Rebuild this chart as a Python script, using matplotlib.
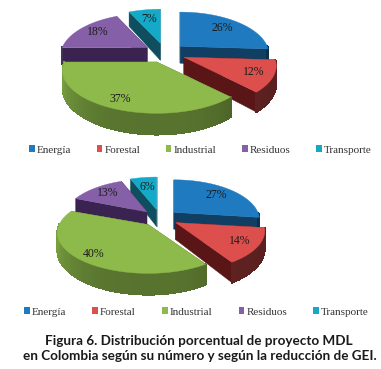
import numpy as np
import matplotlib
matplotlib.use('Agg')
import matplotlib.pyplot as plt
from matplotlib.patches import Polygon, Patch

categories = ['Energía', 'Forestal', 'Industrial', 'Residuos', 'Transporte']
values_top = [26, 12, 37, 18, 7]
values_bottom = [27, 14, 40, 13, 6]
colors = ['#1f7ac0', '#dc4f4c', '#8dba4b', '#8560a8', '#14a9c6']
dark_colors = ['#113f63', '#5a1616', '#4f6d2a', '#3a2350', '#0e4e5e']
caption = ['Figura 6. Distribución porcentual de proyecto MDL',
           'en Colombia según su número y según la reducción de GEI.']

p = 0.2  # fake perspective, back of the pie is smaller than the front
label_r = [0.73, 0.8, 0.84, 0.75, 0.68]
widen = [1, 1.04, 1.06, 0.98, 1]  # front slices look a bit wider in the original


def project(apex, u, v, h, rx, ry, depth):
    s = 1 / (1 + p * v)
    return apex[0] + rx * u * s, apex[1] - ry * v * s + depth * h * s


def shade(col, f):
    return tuple(np.array(matplotlib.colors.to_rgb(col)) * f)


def draw_pie(ax, values, center, radius, ry, depth, explode):
    fr = np.array(values) / sum(values)
    ends = np.cumsum(fr) * 2 * np.pi
    starts = ends - fr * 2 * np.pi
    # back slices first so the front ones cover them
    for i in [4, 3, 0, 1, 2]:
        mid = (starts[i] + ends[i]) / 2
        apex = (center[0] + radius * explode * np.sin(mid), center[1] - ry * explode * np.cos(mid))
        rx = radius * widen[i]
        th = np.linspace(starts[i], ends[i], 80)
        u, v = np.sin(th), np.cos(th)

        # the two cut faces
        for a in (starts[i], ends[i]):
            pts = [project(apex, 0, 0, 0, rx, ry, depth),
                   project(apex, np.sin(a), np.cos(a), 0, rx, ry, depth),
                   project(apex, np.sin(a), np.cos(a), 1, rx, ry, depth),
                   project(apex, 0, 0, 1, rx, ry, depth)]
            ax.add_patch(Polygon(pts, closed=True, fc=dark_colors[i], ec=dark_colors[i], lw=0.3))

        # outer wall, darker toward the right
        for k in range(len(th) - 1):
            if v[k] > 0 and v[k + 1] > 0:
                continue
            pts = [project(apex, u[k], v[k], 0, rx, ry, depth),
                   project(apex, u[k + 1], v[k + 1], 0, rx, ry, depth),
                   project(apex, u[k + 1], v[k + 1], 1, rx, ry, depth),
                   project(apex, u[k], v[k], 1, rx, ry, depth)]
            if i == 2:
                c = shade(colors[i], 0.62 - 0.24 * u[k] ** 3)
            else:
                c = shade(colors[i], 0.46 - 0.06 * u[k])
            ax.add_patch(Polygon(pts, closed=True, fc=c, ec=c, lw=0.7, antialiased=False))

        top = [project(apex, 0, 0, 0, rx, ry, depth)]
        top += [project(apex, a, b, 0, rx, ry, depth) for a, b in zip(u, v)]
        ax.add_patch(Polygon(top, closed=True, fc=colors[i], ec=colors[i], lw=0.3))

        lx, ly = project(apex, label_r[i] * np.sin(mid), label_r[i] * np.cos(mid), 0, rx, ry, depth)
        ax.text(lx, ly, '%d%%' % values[i], ha='center', va='center', fontsize=8.5,
                family='Liberation Serif', color='#1c1c1c')


fig = plt.figure(figsize=(3.81, 3.69), dpi=100)
ax = fig.add_axes([0, 0, 1, 1])
ax.set_xlim(0, 381)
ax.set_ylim(369, 0)
ax.axis('off')

draw_pie(ax, values_top, (165, 53), 87, 41, 17, 0.24)
draw_pie(ax, values_bottom, (160, 218), 84, 39, 17, 0.22)

handles = [Patch(fc=c, ec='none') for c in colors]
first = ax.legend(handles, categories, ncol=5, frameon=False, loc='center left',
                  bbox_to_anchor=(29, 150), bbox_transform=ax.transData, borderpad=0, borderaxespad=0,
                  handlelength=0.5, handleheight=0.6, handletextpad=0.2, columnspacing=2.3,
                  prop={'family': 'Liberation Serif', 'size': 8}, labelcolor='#333333')
ax.add_artist(first)
ax.legend(handles, categories, ncol=5, frameon=False, loc='center left',
          bbox_to_anchor=(24, 312), bbox_transform=ax.transData, borderpad=0, borderaxespad=0,
          handlelength=0.5, handleheight=0.6, handletextpad=0.2, columnspacing=2.35,
          prop={'family': 'Liberation Serif', 'size': 8}, labelcolor='#333333')

ax.text(199, 341, caption[0], ha='center', va='center', fontsize=9.7, family='Lato',
        fontweight='bold', color='#1a1a1a')
ax.text(199.5, 356, caption[1], ha='center', va='center', fontsize=9.7, family='Lato',
        fontweight='bold', color='#1a1a1a')

fig.savefig('out.png', dpi=100)
